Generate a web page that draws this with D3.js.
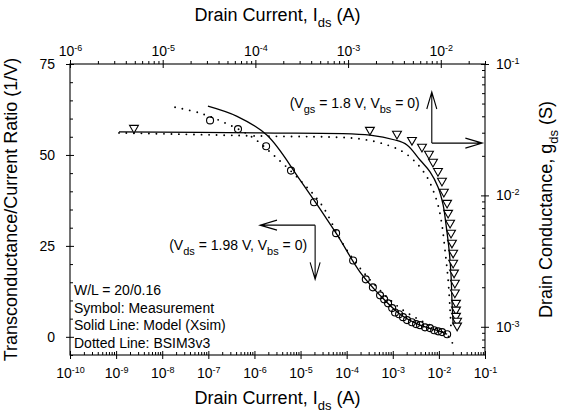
<!DOCTYPE html>
<html>
<head>
<meta charset="utf-8">
<script src="https://cdn.jsdelivr.net/npm/d3@7"></script>
<style>
  body { margin: 0; background: #fff; }
  svg { display: block; font-family: "Liberation Sans", Arial, Helvetica, sans-serif; }
</style>
</head>
<body>
<svg id="chart" width="562" height="414"></svg>
<script>
// gm/Ids vs Ids  (bottom + left axes), Vds = 1.98 V
var gmIdMeasI = [1.09e-7, 4.4e-7, 1.79e-6, 6.2e-6, 1.96e-5, 5.9e-5, 1.38e-4, 2.6e-4, 3.7e-4, 5.3e-4, 6.5e-4, 7.9e-4, 9.7e-4,
                 1.12e-3, 1.37e-3, 1.67e-3, 2.04e-3, 2.6e-3, 3.2e-3, 3.9e-3, 5.0e-3, 6.4e-3, 7.9e-3, 9.6e-3, 1.17e-2, 1.51e-2];
var gmIdMeas  = [59.5, 57.1, 52.4, 45.7, 37.0, 28.5, 21.0, 15.8, 13.6, 11.4, 10.3, 9.2, 7.9,
                 6.7, 6.2, 5.4, 4.6, 4.0, 3.5, 3.2, 2.6, 2.4, 1.8, 1.5, 1.3, 0.7];
var gmIdModelI = [9.8e-8, 4.2e-7, 1.88e-6, 9.8e-6, 5.9e-5, 1.95e-4, 5.3e-4, 1.44e-3, 3.9e-3, 1.06e-2, 1.51e-2];
var gmIdModel  = [63.4, 60.6, 55.4, 43.1, 28.5, 17.8, 11.4, 6.2, 3.2, 1.5, 0.7];
var gmIdBsimI = [1.9e-8, 6.6e-8, 2.4e-7, 8.9e-7, 2.9e-6, 1.08e-5, 2.9e-5, 7.9e-5, 1.95e-4, 5.3e-4, 1.44e-3, 3.9e-3, 1.06e-2, 1.75e-2, 2.1e-2];
var gmIdBsim  = [63.1, 61.5, 58.7, 54.9, 49.4, 42.5, 36.2, 26.0, 18.9, 12.8, 7.9, 4.6, 1.8, -0.4, -2.9];

// gds vs Ids  (top + right axes), Vgs = 1.8 V
var gdsMeasI = [4.9e-6, 1.72e-3, 3.37e-3, 4.89e-3, 6.27e-3, 7.46e-3, 8.24e-3, 9.33e-3, 1.03e-2, 1.08e-2, 1.17e-2, 1.20e-2, 1.26e-2,
                1.29e-2, 1.32e-2, 1.36e-2, 1.36e-2, 1.39e-2, 1.42e-2, 1.42e-2, 1.46e-2, 1.46e-2, 1.46e-2, 1.50e-2, 1.50e-2];
var gdsMeas  = [0.0326, 0.0315, 0.0294, 0.0264, 0.0234, 0.0207, 0.0180, 0.0153, 0.0129, 0.01064, 8.77e-3, 7.36e-3, 6.18e-3,
                5.19e-3, 4.36e-3, 3.66e-3, 3.07e-3, 2.58e-3, 2.16e-3, 1.82e-3, 1.52e-3, 1.35e-3, 1.21e-3, 1.11e-3, 1.02e-3];
var gdsModelI = [3.38e-6, 1.12e-4, 1.72e-3, 3.21e-3, 4.32e-3, 5.97e-3, 7.66e-3, 9.33e-3, 1.06e-2, 1.14e-2, 1.23e-2, 1.29e-2, 1.32e-2, 1.36e-2];
var gdsModel  = [0.0304, 0.0299, 0.0288, 0.0264, 0.0242, 0.0186, 0.0151, 0.0116, 8.47e-3, 5.97e-3, 3.85e-3, 2.48e-3, 1.60e-3, 1.04e-3];
var gdsBsimI = [3.38e-6, 1.12e-4, 1.34e-3, 2.83e-3, 4.11e-3, 5.68e-3, 7.10e-3, 8.24e-3, 9.33e-3, 1.03e-2, 1.11e-2, 1.20e-2, 1.26e-2, 1.29e-2];
var gdsBsim  = [0.0299, 0.0283, 0.0269, 0.0238, 0.0210, 0.0171, 0.0138, 0.0110, 8.47e-3, 5.97e-3, 3.85e-3, 2.28e-3, 1.35e-3, 9.8e-4];

// tick labels
var bottomTicks = [1e-10, 1e-9, 1e-8, 1e-7, 1e-6, 1e-5, 1e-4, 1e-3, 1e-2, 1e-1];
var topTicks = [1e-6, 1e-5, 1e-4, 1e-3, 1e-2];
var leftTicks = [0, 25, 50, 75];
var rightTicks = [1e-3, 1e-2, 1e-1];
var legendLines = ["W/L = 20/0.16", "Symbol: Measurement", "Solid Line: Model (Xsim)", "Dotted Line: BSIM3v3"];

var L = 70, R = 485, T = 64, B = 355;
var svg = d3.select("#chart");

var xB = d3.scaleLog().domain([1e-10, 1e-1]).range([L, R]);
var xT = d3.scaleLog().domain([1e-6, 3e-2]).range([L, R]);
var yL = d3.scaleLinear().domain([-5, 75]).range([B, T]);
var yR = d3.scaleLog().domain([6.1e-4, 1e-1]).range([B, T]);

function zip(xs, ys) { return xs.map(function(x, i) { return [x, ys[i]]; }); }
function isDecade(d) { var e = Math.log10(d); return Math.abs(e - Math.round(e)) < 1e-6; }

// 10 with superscript exponent
function powLabels(g) {
  g.selectAll(".tick text").each(function(d) {
    var t = d3.select(this).text(null);
    t.append("tspan").text("10");
    t.append("tspan").attr("dy", "-0.55em").attr("font-size", "9px").text(Math.round(Math.log10(d)));
  });
}
function clean(g) {
  g.select(".domain").remove();
  g.selectAll(".tick line").attr("stroke", "#000");
  g.attr("font-family", null).attr("font-size", 14);
}

// frame
svg.append("rect").attr("x", L).attr("y", T).attr("width", R - L).attr("height", B - T)
  .attr("fill", "none").attr("stroke", "#000").attr("stroke-width", 1.1);

// bottom axis
var gb = svg.append("g").attr("transform", "translate(0," + B + ")");
gb.append("g").call(d3.axisBottom(xB).tickValues(bottomTicks).tickSize(4).tickPadding(9)).call(clean).call(powLabels);
gb.append("g").call(d3.axisBottom(xB).tickValues(bottomTicks).tickSize(-4).tickFormat("")).call(clean);
gb.append("g").call(d3.axisBottom(xB).tickValues(xB.ticks().filter(function(d) { return !isDecade(d); })).tickSize(-3).tickFormat("")).call(clean);

// top axis
var gt = svg.append("g").attr("transform", "translate(0," + T + ")");
gt.append("g").call(d3.axisTop(xT).tickValues(topTicks).tickSize(4).tickPadding(4)).call(clean).call(powLabels);
gt.append("g").call(d3.axisTop(xT).tickValues(topTicks).tickSize(-4).tickFormat("")).call(clean);
gt.append("g").call(d3.axisTop(xT).tickValues(xT.ticks().filter(function(d) { return !isDecade(d); })).tickSize(3).tickFormat("")).call(clean);

// left axis
var gl = svg.append("g").attr("transform", "translate(" + L + ",0)");
gl.append("g").call(d3.axisLeft(yL).tickValues(leftTicks).tickSize(4).tickPadding(11)).call(clean);
gl.append("g").call(d3.axisLeft(yL).tickValues(leftTicks).tickSize(-4).tickFormat("")).call(clean);
gl.append("g").call(d3.axisLeft(yL).tickValues(yL.ticks(16).filter(function(d) { return d % 25 !== 0; })).tickSize(-3).tickFormat("")).call(clean);

// right axis
var gr = svg.append("g").attr("transform", "translate(" + R + ",0)");
gr.append("g").call(d3.axisRight(yR).tickValues(rightTicks).tickSize(4).tickPadding(7)).call(clean).call(powLabels);
gr.append("g").call(d3.axisRight(yR).tickValues(rightTicks).tickSize(-4).tickFormat("")).call(clean);
gr.append("g").call(d3.axisRight(yR).tickValues(yR.ticks().filter(function(d) { return !isDecade(d); })).tickSize(-3).tickFormat("")).call(clean);

// axis titles (text with subscript)
function richText(sel, parts, size, sub) {
  parts.forEach(function(p) {
    if (p.sub) {
      sel.append("tspan").attr("dy", sub * 0.45).attr("font-size", sub).text(p.s);
    } else {
      sel.append("tspan").attr("dy", p.back ? -sub * 0.45 : 0).text(p.s);
    }
  });
  sel.attr("font-size", size);
}
var currentParts = [{s: "Drain Current, I"}, {s: "ds", sub: 1}, {s: " (A)", back: 1}];
richText(svg.append("text").attr("x", (L + R) / 2).attr("y", 21).attr("text-anchor", "middle"), currentParts, 18, 13);
richText(svg.append("text").attr("x", (L + R) / 2).attr("y", 404).attr("text-anchor", "middle"), currentParts, 18, 13);
richText(svg.append("text").attr("text-anchor", "middle").attr("transform", "translate(17," + (T + B) / 2 + ") rotate(-90)"),
  [{s: "Transconductance/Current Ratio (1/V)"}], 18, 13);
richText(svg.append("text").attr("text-anchor", "middle").attr("transform", "translate(552," + (T + B) / 2 + ") rotate(-90)"),
  [{s: "Drain Conductance, g"}, {s: "ds", sub: 1}, {s: " (S)", back: 1}], 18, 13);

// curves
var lineB = d3.line().x(function(d) { return xB(d[0]); }).y(function(d) { return yL(d[1]); }).curve(d3.curveCatmullRom.alpha(0.5));
var lineT = d3.line().x(function(d) { return xT(d[0]); }).y(function(d) { return yR(d[1]); }).curve(d3.curveCatmullRom.alpha(0.5));

var plot = svg.append("g");
function solid(path) { path.attr("fill", "none").attr("stroke", "#000").attr("stroke-width", 1.3); }
function dotted(path) {
  path.attr("fill", "none").attr("stroke", "#000").attr("stroke-width", 1.9)
    .attr("stroke-linecap", "round").attr("stroke-dasharray", "0,7.5");
}
plot.append("path").attr("d", lineB(zip(gmIdModelI, gmIdModel))).call(solid);
plot.append("path").attr("d", lineB(zip(gmIdBsimI, gmIdBsim))).call(dotted);
plot.append("path").attr("d", lineT(zip(gdsModelI, gdsModel))).call(solid);
plot.append("path").attr("d", lineT(zip(gdsBsimI, gdsBsim))).call(dotted);

plot.selectAll("circle.meas").data(zip(gmIdMeasI, gmIdMeas)).enter().append("circle")
  .attr("class", "meas")
  .attr("cx", function(d) { return xB(d[0]); }).attr("cy", function(d) { return yL(d[1]); })
  .attr("r", 3.5).attr("fill", "none").attr("stroke", "#000").attr("stroke-width", 1.1);

var tri = d3.symbol().type(d3.symbolTriangle).size(34);
plot.selectAll("path.meas").data(zip(gdsMeasI, gdsMeas)).enter().append("path")
  .attr("class", "meas").attr("d", tri)
  .attr("transform", function(d) { return "translate(" + xT(d[0]) + "," + yR(d[1]) + ") rotate(180)"; })
  .attr("fill", "#fff").attr("stroke", "#000").attr("stroke-width", 1.1);

// annotation arrows (bent, open heads)
function arrow(x1, y1, x2, y2) {
  var a = Math.atan2(y2 - y1, x2 - x1), len = 17, w = 5;
  var bx = x2 - len * Math.cos(a), by = y2 - len * Math.sin(a);
  var px = -Math.sin(a) * w, py = Math.cos(a) * w;
  svg.append("path")
    .attr("d", "M" + x1 + "," + y1 + "L" + x2 + "," + y2 +
      "M" + (bx + px) + "," + (by + py) + "L" + x2 + "," + y2 + "L" + (bx - px) + "," + (by - py))
    .attr("fill", "none").attr("stroke", "#000").attr("stroke-width", 1.1);
}
var c1 = [xT(8.0e-3), yR(0.025)];
arrow(c1[0], c1[1], c1[0], yR(0.0612));
arrow(c1[0], c1[1], xT(0.0281), c1[1]);
var c2 = [xB(2.07e-5), yL(30.7)];
arrow(c2[0], c2[1], xB(1.32e-6), c2[1]);
arrow(c2[0], c2[1], c2[0], yL(15.8));

var subParts = function(a, b, c, d, e) {
  return [{s: a}, {s: b, sub: 1}, {s: c, back: 1}, {s: d, sub: 1}, {s: e, back: 1}];
};
richText(svg.append("text").attr("x", c1[0] - 12).attr("y", c1[1] - 35).attr("text-anchor", "end"),
  subParts("(V", "gs", " = 1.8 V, V", "bs", " = 0)"), 14, 11);
richText(svg.append("text").attr("x", c2[0] - 8).attr("y", c2[1] + 25).attr("text-anchor", "end"),
  subParts("(V", "ds", " = 1.98 V, V", "bs", " = 0)"), 14, 11);

// notes
svg.append("g").selectAll("text").data(legendLines).enter().append("text")
  .attr("x", L + 4).attr("y", function(d, i) { return 295 + i * 17.5; })
  .attr("font-size", 14).text(function(d) { return d; });
</script>
</body>
</html>
